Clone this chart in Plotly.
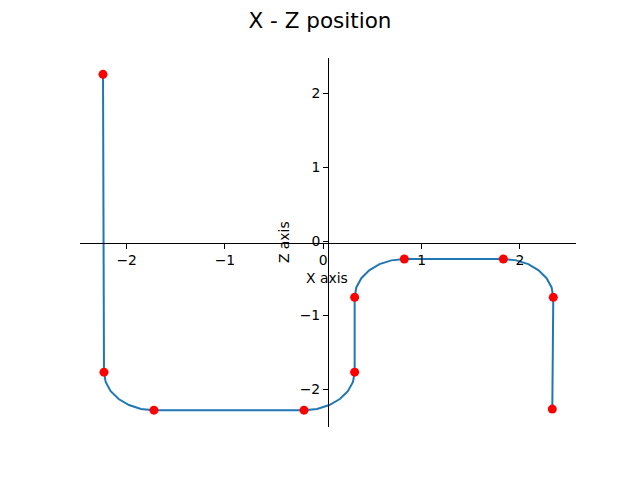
import plotly.graph_objects as go

# Waypoints (red markers)
point_x = [-2.240, -2.230, -1.722, -0.196, 0.319, 0.319, 0.824, 1.831, 2.339, 2.329]
point_z = [2.261, -1.770, -2.284, -2.284, -1.770, -0.757, -0.239, -0.239, -0.757, -2.270]

# Path (blue curve) with rounded corners
path_x = [-2.240, -2.230, -2.213, -2.162, -2.081, -1.976, -1.854, -1.722,
          -0.196, -0.063, 0.062, 0.168, 0.250, 0.302, 0.319,
          0.319, 0.336, 0.387, 0.467, 0.572, 0.693, 0.824,
          1.831, 1.963, 2.085, 2.190, 2.271, 2.322, 2.339,
          2.329]
path_z = [2.261, -1.770, -1.903, -2.027, -2.133, -2.215, -2.267, -2.284,
          -2.284, -2.267, -2.215, -2.133, -2.027, -1.903, -1.770,
          -0.757, -0.623, -0.498, -0.391, -0.308, -0.257, -0.239,
          -0.239, -0.257, -0.308, -0.391, -0.498, -0.623, -0.757,
          -2.270]

tick_vals = [-2, -1, 0, 1, 2]
tick_text = ["\u22122", "\u22121", "0", "1", "2"]

FONT = "DejaVu Sans"
OFF = 8  # page body margin

fig = go.Figure()
fig.add_trace(go.Scatter(x=path_x, y=path_z, mode="lines",
                         line=dict(color="#1f77b4", width=2), hoverinfo="skip"))
fig.add_trace(go.Scatter(x=point_x, y=point_z, mode="markers",
                         marker=dict(color="red", size=9, line=dict(width=0))))

axis_common = dict(showgrid=False, zeroline=False, showline=True, linecolor="black",
                   linewidth=1, ticks="outside", ticklen=5, tickwidth=1, tickcolor="black",
                   tickvals=tick_vals, ticktext=tick_text,
                   tickfont=dict(family=FONT, size=13.9, color="black"),
                   anchor="free", position=0.5, automargin=False)

W, H = 640 - OFF, 480 - OFF
fig.update_layout(
    width=W, height=H,
    margin=dict(l=80 - OFF, r=64, t=58 - OFF, b=53),
    paper_bgcolor="white", plot_bgcolor="white",
    showlegend=False,
    title=dict(text="X - Z position", x=(320 - OFF) / W, xanchor="center",
               y=1 - (20 - OFF) / H, yanchor="middle",
               font=dict(family=FONT, size=21.5, color="black")),
    xaxis=dict(range=[-2.474, 2.570], **axis_common),
    yaxis=dict(range=[-2.512, 2.482], **axis_common),
)

fig.add_annotation(text="X axis", xref="paper", yref="paper",
                   x=(327 - 80) / 496, y=(427.2 - 278) / 369.6,
                   showarrow=False, font=dict(family=FONT, size=13.9, color="black"))
fig.add_annotation(text="Z axis", xref="paper", yref="paper", textangle=-90,
                   x=(284 - 80) / 496, y=(427.2 - 242) / 369.6,
                   showarrow=False, font=dict(family=FONT, size=13.9, color="black"))

fig.write_html("out.html")
